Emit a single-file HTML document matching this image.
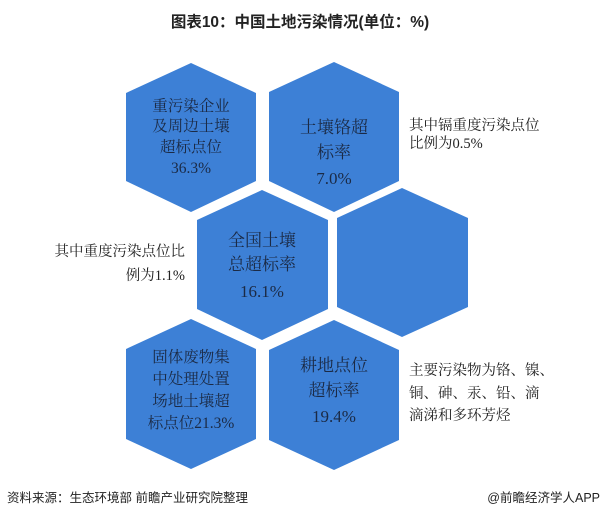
<!DOCTYPE html>
<html><head><meta charset="utf-8"><style>
body{margin:0;background:#fff;}
svg{display:block}
.h{fill:#3d80d6}
.t{font-family:"Liberation Serif","Noto Serif CJK SC",serif;font-size:15.5px;fill:#1b2a45;text-anchor:middle}
.b{font-size:17px}
.s{font-family:"Liberation Serif","Noto Serif CJK SC",serif;font-size:14.5px;fill:#222}
</style></head><body>
<svg width="602" height="519" viewBox="0 0 602 519">
<text x="300" y="27" text-anchor="middle" font-family="Liberation Sans,'Noto Sans CJK SC',sans-serif" font-weight="bold" font-size="15.5" fill="#222">图表10：中国土地污染情况(单位：%)</text>
<g class="h">
<polygon points="191,63 256,93 256,181 191,212 126,181 126,93"/>
<polygon points="334,62 399,92 399,181 334,212 269,181 269,92"/>
<polygon points="262,190 328,220 328,309 262,340 197,309 197,220"/>
<polygon points="402,188 468,218 468,307 402,337 337,307 337,218"/>
<polygon points="191,319 256,349 256,439 191,469 126,439 126,349"/>
<polygon points="334,320 399,350 399,440 334,470 269,440 269,350"/>
</g>
<text class="t" x="191" y="111">重污染企业</text>
<text class="t" x="191" y="131">及周边土壤</text>
<text class="t" x="191" y="152">超标点位</text>
<text class="t" x="191" y="173">36.3%</text>
<text class="t b" x="334" y="133">土壤铬超</text>
<text class="t b" x="334" y="158">标率</text>
<text class="t b" x="334" y="184">7.0%</text>
<text class="t b" x="262" y="246">全国土壤</text>
<text class="t b" x="262" y="270">总超标率</text>
<text class="t b" x="262" y="297">16.1%</text>
<text class="t" x="191" y="362">固体废物集</text>
<text class="t" x="191" y="384">中处理处置</text>
<text class="t" x="191" y="406">场地土壤超</text>
<text class="t" x="191" y="428">标点位21.3%</text>
<text class="t b" x="334" y="371">耕地点位</text>
<text class="t b" x="334" y="396">超标率</text>
<text class="t b" x="334" y="422">19.4%</text>
<text class="s" x="409" y="130">其中镉重度污染点位</text>
<text class="s" x="409" y="148">比例为0.5%</text>
<text class="s" x="185" y="256" text-anchor="end">其中重度污染点位比</text>
<text class="s" x="185" y="280" text-anchor="end">例为1.1%</text>
<text class="s" x="409" y="375">主要污染物为铬、镍、</text>
<text class="s" x="409" y="398">铜、砷、汞、铅、滴</text>
<text class="s" x="409" y="420">滴涕和多环芳烃</text>
<text x="7" y="502" font-family="Liberation Sans,'Noto Sans CJK SC',sans-serif" font-size="12.5" fill="#222">资料来源：生态环境部 前瞻产业研究院整理</text>
<text x="600" y="502" text-anchor="end" font-family="Liberation Sans,'Noto Sans CJK SC',sans-serif" font-size="12.5" fill="#222">@前瞻经济学人APP</text>
</svg>
</body></html>
